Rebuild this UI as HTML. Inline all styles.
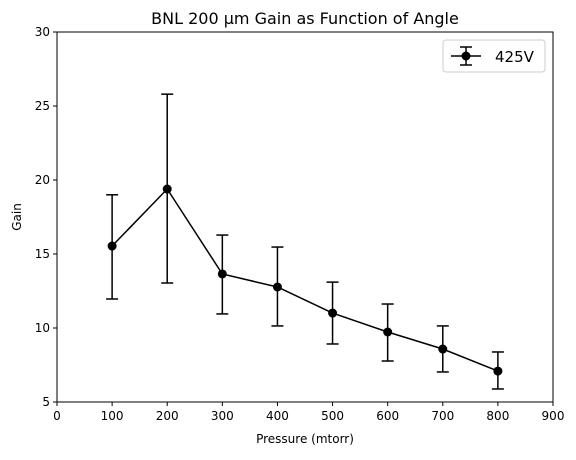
<!DOCTYPE html>
<html><head><meta charset="utf-8"><style>
body{margin:0;background:#fff;font-family:"Liberation Sans","DejaVu Sans",sans-serif}
svg text{font-family:"DejaVu Sans","Liberation Sans",sans-serif;fill:#000}
</style></head><body>
<svg id="chart" width="576" height="455" xmlns="http://www.w3.org/2000/svg"></svg>
<script>
const pressures=[100,200,300,400,500,600,700,800];
const gains=[15.54,19.39,13.65,12.77,11.01,9.73,8.58,7.09];
const errUpper=[19.0,25.8,16.28,15.47,13.1,11.62,10.14,8.38];
const errLower=[11.96,13.04,10.95,10.14,8.92,7.77,7.03,5.88];
const xTicks=[0,100,200,300,400,500,600,700,800,900];
const yTicks=[5,10,15,20,25,30];
const L=57,R=553,T=32,B=402;
const sx=v=>L+(v-0)/(900-0)*(R-L);
const sy=v=>B-(v-5)/(30-5)*(B-T);
const svg=document.getElementById('chart');
const NS='http://www.w3.org/2000/svg';
function mk(tag,attrs,parent){const e=document.createElementNS(NS,tag);for(const k in attrs)e.setAttribute(k,attrs[k]);(parent||svg).appendChild(e);return e;}
const title=mk('text',{x:305,y:24,'text-anchor':'middle','font-size':16});title.textContent='BNL 200 µm Gain as Function of Angle';


const ax=mk('g',{});


xTicks.forEach(t=>{mk('line',{x1:sx(t),x2:sx(t),y1:B,y2:B+4,stroke:'#000'},ax);const tx=mk('text',{x:sx(t),y:B+18,'text-anchor':'middle','font-size':12},ax);tx.textContent=t;});
const xl=mk('text',{x:(L+R)/2,y:443,'text-anchor':'middle','font-size':12});xl.textContent='Pressure (mtorr)';


const ay=mk('g',{});


yTicks.forEach(t=>{mk('line',{x1:L-4,x2:L,y1:sy(t),y2:sy(t),stroke:'#000'},ay);const tx=mk('text',{x:L-7,y:sy(t)+4,'text-anchor':'end','font-size':12},ay);tx.textContent=t;});
const yl=mk('text',{x:21,y:(T+B)/2,'text-anchor':'middle','font-size':12,transform:`rotate(-90 21 ${(T+B)/2})`});yl.textContent='Gain';


const eg=mk('g',{stroke:'#000','stroke-width':1.5});


pressures.forEach((p,i)=>{const x=sx(p);mk('line',{x1:x,x2:x,y1:sy(errUpper[i]),y2:sy(errLower[i])},eg);mk('line',{x1:x-6,x2:x+6,y1:sy(errUpper[i]),y2:sy(errUpper[i])},eg);mk('line',{x1:x-6,x2:x+6,y1:sy(errLower[i]),y2:sy(errLower[i])},eg);});
const line=mk('polyline',{points:pressures.map((p,i)=>sx(p)+','+sy(gains[i])).join(' '),fill:'none',stroke:'#000','stroke-width':1.5});


pressures.forEach((p,i)=>{const c=mk('circle',{cx:sx(p),cy:sy(gains[i]),r:4.5,fill:'#000'});

});
mk('rect',{x:L,y:T,width:R-L,height:B-T,fill:'none',stroke:'#000','stroke-width':1});
const lg=mk('g',{});


mk('rect',{x:443,y:40,width:102,height:32,rx:3,fill:'#fff',stroke:'#ccc'},lg);
mk('line',{x1:451,x2:481,y1:56,y2:56,stroke:'#000','stroke-width':1.5},lg);
mk('line',{x1:466,x2:466,y1:47,y2:65,stroke:'#000','stroke-width':1.5},lg);
mk('line',{x1:460,x2:472,y1:47,y2:47,stroke:'#000','stroke-width':1.5},lg);
mk('line',{x1:460,x2:472,y1:65,y2:65,stroke:'#000','stroke-width':1.5},lg);
mk('circle',{cx:466,cy:56,r:4.5,fill:'#000'},lg);
const lt=mk('text',{x:495,y:62,'font-size':15},lg);lt.textContent='425V';
</script>
</body></html>
